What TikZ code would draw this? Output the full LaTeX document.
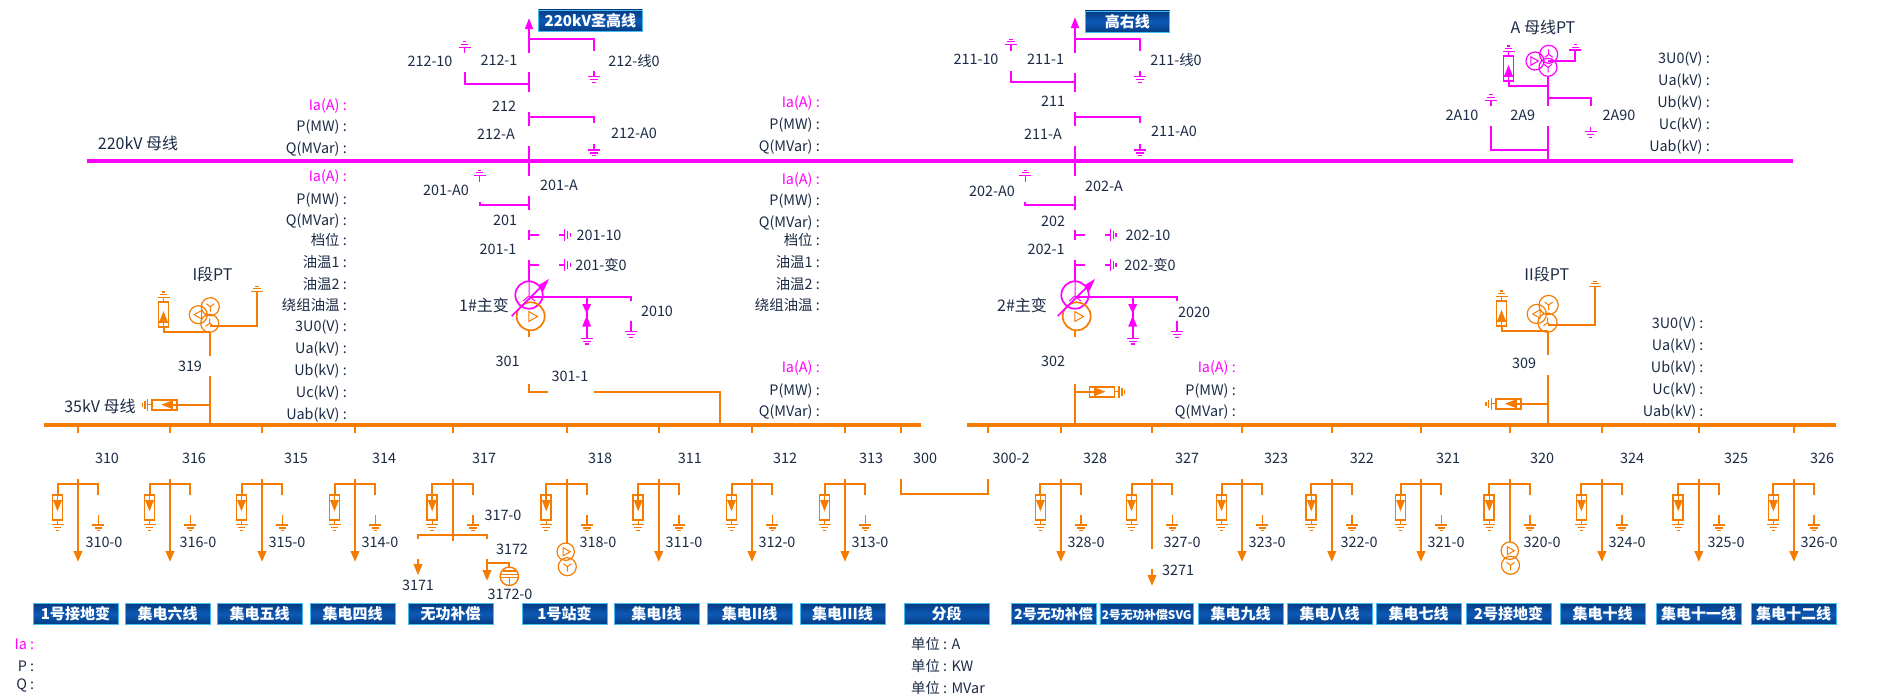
\documentclass[tikz,border=0pt]{standalone}
\usepackage{fontspec}
\setmainfont{Noto Sans CJK SC}
\definecolor{mg}{HTML}{FF00FF}
\definecolor{og}{HTML}{F57C00}
\definecolor{tx}{HTML}{1C2B45}
\definecolor{btnm}{HTML}{0D59B5}
\definecolor{btne}{HTML}{043B82}
\definecolor{btnb}{HTML}{45BDF0}
\tikzset{
 ln/.style={line width=2pt},
 hv/.style={ln,draw=mg},
 lv/.style={ln,draw=og},
 busline/.style={line width=4pt},
 lbl/.style={inner sep=0pt,font=\fontsize{14.4}{14.4}\selectfont,text=tx,text height=10pt,text depth=0pt},
 lblb/.style={lbl,font=\fontsize{16}{16}\selectfont},
 lblr/.style={lbl,anchor=east},
 lblm/.style={lblr,text=mg},
 btn/.style={draw=btnb,line width=0.9pt,top color=btne,bottom color=btne,middle color=btnm,inner sep=0pt,text=white,text height=10.5pt,text depth=0pt},
}
% ground symbol: colour, x, y, rotation, stem length
\newcommand\gsym[5]{\begin{scope}[shift={(#2,#3)},rotate=#4]
 \draw[#1,line width=1.6pt] (0,0)--(0,#5);
 \draw[#1,line width=1.2pt] (-6,#5)--(6,#5) (-3.8,{#5+2.9})--(3.8,{#5+2.9}) (-1.8,{#5+5.6})--(1.8,{#5+5.6});
\end{scope}}
% arrester: colour, x, y, rotation (connection end at origin)
\newcommand\arr[4]{\begin{scope}[shift={(#2,#3)},rotate=#4]
 \draw[#1,line width=1.8pt] (-5,0) rectangle (5,25);
 \draw[#1,line width=1.6pt] (-5,5.3)--(5,5.3) (0,0)--(0,5.3);
 \fill[#1] (-4.2,5.3)--(4.2,5.3)--(0,16)--cycle;
 \draw[#1,line width=1.2pt] (0,25)--(0,29.5);
 \draw[#1,line width=1.2pt] (-6,29.5)--(6,29.5) (-3.8,32.4)--(3.8,32.4) (-1.8,35.1)--(1.8,35.1);
\end{scope}}
\newcommand\ysym[5]{\begin{scope}[shift={(#2,#3)},rotate=#4]
 \draw[#1,line width=1pt] (0,0)--(0,#5) (0,0)--(-#5*0.8,-#5*0.6) (0,0)--(#5*0.8,-#5*0.6);
\end{scope}}
\newcommand\trisym[5]{\begin{scope}[shift={(#2,#3)},rotate=#4]
 \draw[#1,line width=1pt] (-#5*0.75,-#5)--(-#5*0.75,#5)--(#5,0)--cycle;
\end{scope}}
\newcommand\feederbase[2]{%
 \draw[lv] (#1,425)--(#1,432.7);
 \draw[lv] (#1,479)--(#1,#2);
 \draw[lv] ({#1-20.5},495.3)--({#1-20.5},484)--({#1+20.3},484)--({#1+20.3},495);
 \arr{og}{#1-20.5}{495.3}{0}
 \gsym{og}{#1+20.3}{515}{0}{10}
}
\newcommand\arrowdown[4]{\fill[#1] ({#2-4.6},#3)--({#2+4.6},#3)--(#2,#4)--cycle;}
\newcommand\mainT[1]{%
 \draw[hv] (#1,260)--(#1,282);
 \draw[mg,line width=1.7pt] (#1,295) circle (13.7);
 \draw[mg,line width=1pt] (#1,282)--(#1,296) (#1,296)--({#1-6},301) (#1,296)--({#1+6},301);
 \draw[og,line width=1.7pt] ({#1+1.7},316.3) circle (14);
 \trisym{og}{#1+3.5}{316.5}{0}{5}
 \draw[lv] (#1,330)--(#1,337);
 \draw[mg,line width=1.7pt] ({#1-17.3},316)--({#1+15},284);
 \fill[mg] ({#1+20},279)--({#1+9},285.5)--({#1+14.5},291)--cycle;
 \draw[hv] (#1,296.7)--({#1+102},296.7)--({#1+102},301);
 \draw[hv] ({#1+57.7},296.7)--({#1+57.7},338);
 \fill[mg] ({#1+53.2},304)--({#1+62.2},304)--({#1+57.7},313.5)--cycle;
 \fill[mg] ({#1+53.2},326.7)--({#1+62.2},326.7)--({#1+57.7},315.5)--cycle;
 \gsym{mg}{#1+57.7}{335}{0}{3.3}
 \gsym{mg}{#1+102}{321}{0}{10.7}
}
\begin{document}
\begin{tikzpicture}[x=1pt,y=-1pt]
\useasboundingbox (0,0) rectangle (1880,699);
\fill[white] (0,0) rectangle (1880,699);
% buses
\coordinate (hvL) at (87,160.7); \coordinate (hvR) at (1793,160.7);
\coordinate (lvaL) at (44,425); \coordinate (lvaR) at (921,425);
\coordinate (lvbL) at (967,425); \coordinate (lvbR) at (1836,425);
\draw[busline,draw=mg] (hvL)--(hvR);
\draw[busline,draw=og] (lvaL)--(lvaR);
\draw[busline,draw=og] (lvbL)--(lvbR);
% 220 kV line 212
\fill[mg] (529,18.3)--(524.8,29)--(533.2,29)--cycle;
\draw[hv] (529,29)--(529,52.7);
\draw[hv] (529,39)--(594,39)--(594,50.7);
\gsym{mg}{594}{71}{0}{5.7}
\gsym{mg}{464.5}{52.7}{180}{5.4}
\draw[hv] (465,72.3)--(465,84)--(529,84);
\draw[hv] (529,72.3)--(529,91.7);
\draw[hv] (529,112.3)--(529,126);
\draw[hv] (529,117)--(594,117)--(594,123.3);
\gsym{mg}{594}{144.3}{0}{5.7}
\draw[hv] (529,146)--(529,175.7);
% 201
\gsym{mg}{479.5}{181.7}{180}{6}
\draw[hv] (479.5,202)--(479.5,204.7)--(529,204.7);
\draw[hv] (529,195.7)--(529,210);
\draw[hv] (529,230)--(529,240);
\draw[hv] (529,235)--(538.7,235);
\gsym{mg}{559.3}{235}{90}{5.4}
\draw[hv] (529,264.7)--(538.7,264.7);
\gsym{mg}{559.3}{264.7}{90}{5.4}
\mainT{529}
\draw[lv] (529,384)--(529,392)--(547.7,392);
\draw[lv] (594,392)--(719.6,392)--(719.6,425);
% 211
\fill[mg] (1075,17.3)--(1070.8,28)--(1079.2,28)--cycle;
\draw[hv] (1075,28)--(1075,52.7);
\draw[hv] (1075,39)--(1140,39)--(1140,50.7);
\gsym{mg}{1140}{71}{0}{5.7}
\gsym{mg}{1010.8}{50.7}{180}{6}
\draw[hv] (1010.8,70.7)--(1010.8,81.7)--(1075,81.7);
\draw[hv] (1075,72.7)--(1075,91.7);
\draw[hv] (1075,112.3)--(1075,126);
\draw[hv] (1075,117)--(1140,117)--(1140,123.3);
\gsym{mg}{1140}{144.3}{0}{5.7}
\draw[hv] (1075,146)--(1075,175.7);
% 202
\gsym{mg}{1025.3}{181.7}{180}{6}
\draw[hv] (1025.3,202)--(1025.3,204.7)--(1075,204.7);
\draw[hv] (1075,195.7)--(1075,210);
\draw[hv] (1075,230)--(1075,239.5);
\draw[hv] (1075,235)--(1084.6,235);
\gsym{mg}{1105}{235}{90}{5.4}
\draw[hv] (1075,265)--(1084.6,265);
\gsym{mg}{1105}{265}{90}{5.4}
\mainT{1075}
\draw[lv] (1075,384)--(1075,425);
\draw[lv] (1075,391.7)--(1089.5,391.7);
\arr{og}{1089.5}{391.7}{90}
% A PT
\draw[hv] (1548,160.7)--(1548,126);
\draw[hv] (1548,105.7)--(1548,76);
\draw[mg,line width=1.2pt] (1548.7,54.3) circle (9) (1535,61) circle (9) (1548,67.3) circle (9);
\ysym{mg}{1548.7}{54.3}{180}{5}
\ysym{mg}{1548}{67.3}{0}{5}
\trisym{mg}{1534}{61}{0}{4.3}
\draw[hv] (1548,61)--(1575.3,61)--(1575.3,50);
\gsym{mg}{1575.3}{50}{180}{0}
\draw[hv] (1548,86)--(1508.5,86)--(1508.5,81);
\arr{mg}{1508.5}{81}{180}
\draw[hv] (1548,98)--(1591,98)--(1591,105.7);
\gsym{mg}{1590.5}{126.7}{0}{5}
\gsym{mg}{1491}{105.7}{180}{5.5}
\draw[hv] (1491,126)--(1491,150)--(1548,150);
% I-section PT
\draw[lv] (210,425)--(210,376);
\draw[lv] (210,356)--(210,331.7);
\draw[og,line width=1.2pt] (210.3,306.7) circle (9) (198.3,314.7) circle (9) (209.7,323.3) circle (9);
\ysym{og}{210.3}{306.7}{0}{5}
\ysym{og}{209.7}{323.3}{180}{5}
\trisym{og}{198.5}{314.7}{180}{4.3}
\draw[lv] (210,325.7)--(257,325.7)--(257,291.7);
\gsym{og}{257}{291.7}{180}{0}
\draw[lv] (210,331.7)--(163.7,331.7)--(163.7,327);
\arr{og}{163.5}{327}{180}
\draw[lv] (210,404.7)--(177.3,404.7);
\arr{og}{177.3}{404.7}{-90}
% II-section PT
\draw[lv] (1548,425)--(1548,375);
\draw[lv] (1548,355)--(1548,330.7);
\draw[og,line width=1.2pt] (1548.6,305) circle (9.6) (1536.8,314) circle (9.6) (1547.5,322.7) circle (9.6);
\ysym{og}{1548.6}{305}{0}{5}
\ysym{og}{1547.5}{322.7}{180}{5}
\trisym{og}{1537}{314}{180}{4.3}
\draw[lv] (1548,324.7)--(1595,324.7)--(1595,286.7);
\gsym{og}{1595}{286.7}{180}{0}
\draw[lv] (1548,330.7)--(1501.5,330.7)--(1501.5,326);
\arr{og}{1501.5}{326}{180}
\draw[lv] (1548,403.7)--(1521,403.7);
\arr{og}{1521}{403.7}{-90}
% feeders with arrows
\foreach \fx in {78,170,262,355,658.7,752,845,1060.9,1242,1331.8,1421,1601.9,1698.8,1793.9}{
 \feederbase{\fx}{551}
 \arrowdown{og}{\fx}{551}{561.7}
}
% feeder 317
\feederbase{452.7}{541}
\draw[lv] (418,538.7)--(418,535)--(487,535)--(487,538.7);
\draw[lv] (418,559)--(418,564);
\arrowdown{og}{418}{564}{575}
\draw[lv] (487,559)--(487,570);
\arrowdown{og}{487}{570}{580.7}
\draw[lv] (487,562.7)--(509.3,562.7)--(509.3,567);
\draw[og,line width=1.4pt] (509.3,576.3) circle (9.2);
\draw[og,line width=1.3pt] (503,571)--(515.6,571);
\draw[og,line width=1.6pt] (500.3,574.5)--(518.3,574.5) (500.3,577.6)--(518.3,577.6);
\draw[og,line width=1.2pt] (509.3,577.6)--(509.3,585.5);
% feeder 318
\feederbase{566.7}{543.3}
\draw[og,line width=1.2pt] (565.7,551.7) circle (8.7) (567.3,566.7) circle (9);
\trisym{og}{566.2}{551.7}{0}{4}
\ysym{og}{567.3}{566.7}{0}{5}
% feeder 327
\feederbase{1152}{549}
\draw[lv] (1152,569)--(1152,575);
\arrowdown{og}{1152}{575}{585.7}
% feeder 320
\feederbase{1509.8}{541.7}
\draw[og,line width=1.2pt] (1509.8,550.7) circle (8.7) (1510.5,565.3) circle (9);
\trisym{og}{1510.3}{550.7}{0}{4}
\ysym{og}{1510.5}{565.3}{0}{5}
% section 300
\draw[lv] (900.8,425)--(900.8,432.7);
\draw[lv] (988,425)--(988,432.7);
\draw[lv] (900.8,479)--(900.8,494)--(988,494)--(988,479);
% labels
\foreach \x/\y/\t [count=\i] in {
 499/60/212-1,430/61/212-10,634/61/212-线0,504/106.7/212,496/134/212-A,634/133/212-A0,
 559/185/201-A,446/190/201-A0,505/220/201,599/235/201-10,498/249/201-1,601/265/201-变0,657/311/2010,
 976/59.3/211-10,1045.6/59.3/211-1,1176/60/211-线0,1053/101.7/211,1043/134/211-A,1174/131.7/211-A0,
 992/191.7/202-A0,1104/186.7/202-A,1053/221.7/202,1148/235.7/202-10,1046/249.3/202-1,1150/265/202-变0,1194/312/2020,
 507.5/361/301,570/376/301-1,190/366/319,1053/361.7/302,1524/363/309,
 1522.7/115.3/2A9,1619/115.3/2A90,1462/115.3/2A10,
 107/458/310,194/458/316,296/458/315,384/458/314,484/458/317,600/458/318,689.8/458/311,785/458/312,871/458/313,925/458/300,1011/458/300-2,
 1095/458/328,1187/458/327,1276/458/323,1361.8/458/322,1448/458/321,1542/458/320,1632/458/324,1736/458/325,1822/458/326,
 104/542/310-0,198/542/316-0,287/542/315-0,380/542/314-0,598/542/318-0,684/542/311-0,777/542/312-0,870/542/313-0,1086/542/328-0,1182/542/327-0,1267/542/323-0,
 1359/542/322-0,1446/542/321-0,1542/542/320-0,1627/542/324-0,1726/542/325-0,1819/542/326-0,
 503/515/317-0,512/549/3172,418/585/3171,510/594/3172-0,1178/570/3271}{
 \node[lbl] (lab\i) at (\x,\y) {\t};
}
\foreach \x/\y/\t [count=\i] in {138/144/220kV 母线,100/407.7/35kV 母线,484/306/1\#主变,1022/306/2\#主变,212.5/275/I段PT,1546.8/275/II段PT,1543/28/A 母线PT}{
 \node[lblb] (big\i) at (\x,\y) {\t};
}
% measurement labels
\foreach \x/\y/\t [count=\i] in {
 347/126.7/P(MW),347/148.3/Q(MVar),347/199/P(MW),347/220.7/Q(MVar),347/240/档位,347/262/油温1,347/284/油温2,347/305.7/绕组油温,347/326.7/3U0(V),347/348.7/Ua(kV),347/370.7/Ub(kV),347/392.3/Uc(kV),347/414/Uab(kV),
 820/124.7/P(MW),820/146.7/Q(MVar),820/200.7/P(MW),820/222.3/Q(MVar),820/240/档位,820/262.3/油温1,820/284/油温2,820/305.7/绕组油温,
 820/390/P(MW),820/411.7/Q(MVar),1236/390/P(MW),1236/411.7/Q(MVar),
 1703.6/323.3/3U0(V),1703.6/345/Ua(kV),1703.6/367.3/Ub(kV),1703.6/389.3/Uc(kV),1703.6/411/Uab(kV),
 1710/58.7/3U0(V),1710/80.7/Ua(kV),1710/102.3/Ub(kV),1710/124.3/Uc(kV),1710/146.3/Uab(kV),
 34.4/666/P,34.4/684.3/Q}{
 \node[lblr] (mea\i) at (\x,\y) {\t\ :};
}
\foreach \x/\y/\t [count=\i] in {347/105/Ia(A),347/176.7/Ia(A),820/102.7/Ia(A),820/179/Ia(A),820/367.7/Ia(A),1236/367.7/Ia(A),34.4/644.7/Ia}{
 \node[lblm] (iam\i) at (\x,\y) {\t\ :};
}
\foreach \y/\t [count=\i] in {644.7/单位 : A,666/单位 : KW,688/单位 : MVar}{
 \node[lbl,anchor=west] (unit\i) at (911,\y) {\t};
}
% buttons
\foreach \a/\b/\t [count=\i] in {
 33/118/1号接地变,125/210/集电六线,217/302/集电五线,310/395/集电四线,408/493/无功补偿,522/607/1号站变,614/699/集电I线,707/792/集电II线,800/885/集电III线,904/989/分段,
 1198/1283/集电九线,1287/1372/集电八线,1376/1461/集电七线,1466/1551/2号接地变,1560/1645/集电十线,1656/1741/集电十一线,1751/1836/集电十二线}{
 \pgfmathsetmacro\cx{(\a+\b)/2}\pgfmathsetmacro\bw{\b-\a}
 \node[btn,minimum width=\bw pt,minimum height=21.4pt,font=\bfseries\fontsize{15}{15}\selectfont] (btn\i) at (\cx,614) {\t};
}
\node[btn,minimum width=85pt,minimum height=21.4pt,font=\bfseries\fontsize{14}{14}\selectfont] (btnA) at (1053.5,614) {2号无功补偿};
\node[btn,minimum width=93.5pt,minimum height=21.4pt,font=\bfseries\fontsize{11.8}{11.8}\selectfont] (btnB) at (1146.7,614) {2号无功补偿SVG};
\node[btn,minimum width=104pt,minimum height=21.7pt,font=\bfseries\fontsize{15}{15}\selectfont] (btnC) at (590.4,20.8) {220kV圣高线};
\node[btn,minimum width=84.6pt,minimum height=21.7pt,font=\bfseries\fontsize{15}{15}\selectfont] (btnD) at (1127.3,21.8) {高右线};
\end{tikzpicture}
\end{document}
